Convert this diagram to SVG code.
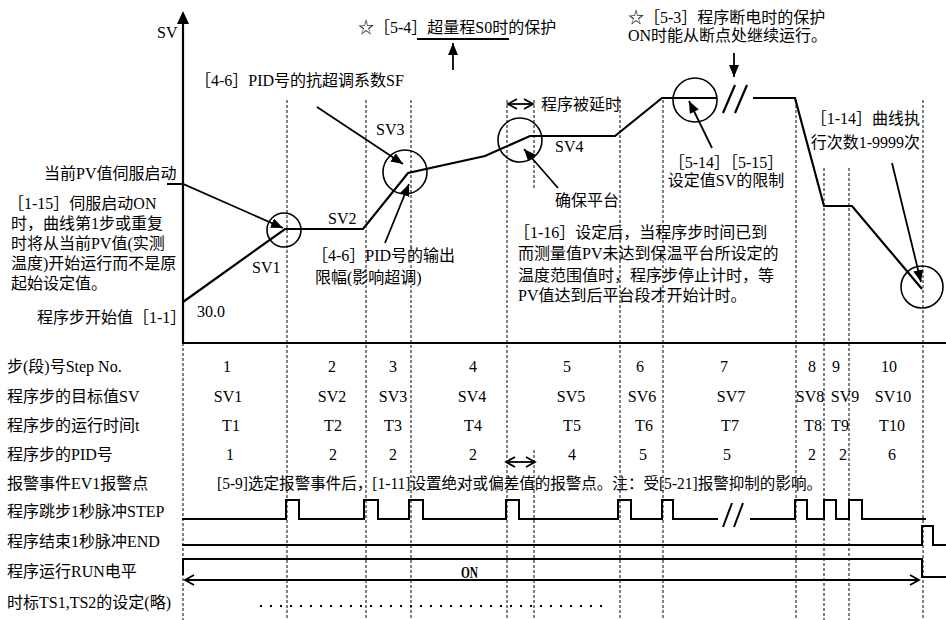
<svg xmlns="http://www.w3.org/2000/svg" width="946" height="620" viewBox="0 0 946 620">
<defs>
<style>
text{font-family:"Liberation Serif","Noto Sans CJK SC",serif;font-size:16px;fill:#000}
.m{text-anchor:middle}
.e{text-anchor:end}
.dash{stroke:#000;stroke-width:1;stroke-dasharray:3 2;fill:none}
.thick{stroke:#000;stroke-width:2.2;fill:none}
.circ{stroke:#000;stroke-width:1.6;fill:none}
.arr{stroke:#000;stroke-width:1.8;fill:none;marker-end:url(#ah)}
.dbl{stroke:#000;stroke-width:1.8;fill:none;marker-start:url(#oh);marker-end:url(#oh)}
.sig{stroke:#000;stroke-width:2;fill:none}
</style>
<marker id="ah" markerUnits="userSpaceOnUse" markerWidth="13" markerHeight="11" refX="12" refY="5" orient="auto"><path d="M0,0 L12,5 L0,10 z" fill="#000"/></marker>
<marker id="oh" markerUnits="userSpaceOnUse" markerWidth="12" markerHeight="12" refX="10" refY="6" orient="auto-start-reverse"><path d="M1,1 L10,6 L1,11" fill="none" stroke="#000" stroke-width="1.8"/></marker>
</defs>
<rect width="946" height="620" fill="#fff"/>

<g id="grid">
<path class="dash" d="M183,343V620 M287,100V620 M366,100V620 M411,100V620 M507,100V620 M534,100V190 M534,450V620 M620,100V620 M663,100V620 M796,100V620 M824,168V620 M849,168V620 M923,100V620"/>
</g>

<g id="axes">
<path d="M183,22V343" stroke="#000" stroke-width="2.2" fill="none"/>
<polygon points="183,11 177,24 189,24" fill="#000"/>
<path d="M182,343H946" stroke="#000" stroke-width="2.2" fill="none"/>
<text x="157" y="38">SV</text>
</g>

<g id="curve">
<path class="thick" d="M183,302 L285,229 L363,229 L408,173 L485,156 L530,136 L615,136 L662,98 L717,98 M753,98 L795,98 L824,206 L852,206 L922,289"/>
<path class="thick" d="M723,113 L735,85 M735,113 L747,85"/>
</g>

<g id="circles">
<circle class="circ" cx="284" cy="230" r="17"/>
<circle class="circ" cx="405" cy="172" r="22"/>
<circle class="circ" cx="520" cy="140" r="22"/>
<circle class="circ" cx="695" cy="100" r="22"/>
<circle class="circ" cx="922" cy="287" r="21"/>
</g>

<g id="connectors">
<path class="arr" d="M167,184 L183,184 L283,228"/>
<path class="arr" d="M317,107 L403,164"/>
<path class="arr" d="M385,243 L409,184"/>
<path class="arr" d="M558,188 L524,149"/>
<path class="arr" d="M712,148 L689,101"/>
<path class="arr" d="M892,163 L921,282"/>
<path class="arr" d="M734,53 L734,77"/>
<path class="arr" d="M453,70 L453,43"/>
<path d="M417,39 H509" stroke="#000" stroke-width="2" fill="none"/>
<path class="dbl" d="M508,104 H533"/>
<path class="dbl" d="M506,462 H535"/>
<path class="dbl" d="M185,580 H919"/>
</g>

<g id="labels-top">
<text x="195" y="86">［4-6］PID号的抗超调系数SF</text>
<text x="358" y="33">☆［5-4］超量程S0时的保护</text>
<text x="628" y="23">☆［5-3］程序断电时的保护</text>
<text x="628" y="41">ON时能从断点处继续运行。</text>
<text x="541" y="110">程序被延时</text>
<text x="376" y="135">SV3</text>
<text x="555" y="152">SV4</text>
<text x="555" y="206">确保平台</text>
<text x="328" y="224">SV2</text>
<text x="252" y="273">SV1</text>
<text x="197" y="317">30.0</text>
<text x="37" y="323">程序步开始值［1-1］</text>
<text x="44" y="179">当前PV值伺服启动</text>
<text x="8" y="209">［1-15］伺服启动ON</text>
<text x="11" y="229">时，曲线第1步或重复</text>
<text x="11" y="249">时将从当前PV值(实测</text>
<text x="11" y="269">温度)开始运行而不是原</text>
<text x="11" y="289">起始设定值。</text>
<text x="312" y="261">［4-6］PID号的输出</text>
<text x="315" y="283">限幅(影响超调)</text>
<text x="514" y="238">［1-16］设定后，当程序步时间已到</text>
<text x="518" y="259">而测量值PV未达到保温平台所设定的</text>
<text x="518" y="281">温度范围值时，程序步停止计时，等</text>
<text x="518" y="301">PV值达到后平台段才开始计时。</text>
<text class="m" x="726" y="168">［5-14］［5-15］</text>
<text class="m" x="726" y="186">设定值SV的限制</text>
<text class="e" x="920" y="124">［1-14］曲线执</text>
<text class="e" x="920" y="148">行次数1-9999次</text>
</g>

<g id="row-labels">
<text x="7" y="372">步(段)号Step No.</text>
<text x="7" y="402">程序步的目标值SV</text>
<text x="7" y="431">程序步的运行时间t</text>
<text x="7" y="460">程序步的PID号</text>
<text x="7" y="489">报警事件EV1报警点</text>
<text x="7" y="517">程序跳步1秒脉冲STEP</text>
<text x="7" y="547">程序结束1秒脉冲END</text>
<text x="7" y="577">程序运行RUN电平</text>
<text x="7" y="608">时标TS1,TS2的设定(略)</text>
</g>

<g id="table">
<text class="m" x="227" y="372">1</text><text class="m" x="332" y="372">2</text><text class="m" x="393" y="372">3</text><text class="m" x="473" y="372">4</text><text class="m" x="567" y="372">5</text><text class="m" x="640" y="372">6</text><text class="m" x="724" y="372">7</text><text class="m" x="812" y="372">8</text><text class="m" x="836" y="372">9</text><text class="m" x="889" y="372">10</text>
<text class="m" x="228" y="402">SV1</text><text class="m" x="332" y="402">SV2</text><text class="m" x="393" y="402">SV3</text><text class="m" x="472" y="402">SV4</text><text class="m" x="571" y="402">SV5</text><text class="m" x="642" y="402">SV6</text><text class="m" x="731" y="402">SV7</text><text class="m" x="810" y="402">SV8</text><text class="m" x="845" y="402">SV9</text><text class="m" x="893" y="402">SV10</text>
<text class="m" x="231" y="431">T1</text><text class="m" x="333" y="431">T2</text><text class="m" x="393" y="431">T3</text><text class="m" x="473" y="431">T4</text><text class="m" x="572" y="431">T5</text><text class="m" x="644" y="431">T6</text><text class="m" x="730" y="431">T7</text><text class="m" x="813" y="431">T8</text><text class="m" x="840" y="431">T9</text><text class="m" x="892" y="431">T10</text>
<text class="m" x="230" y="460">1</text><text class="m" x="333" y="460">2</text><text class="m" x="393" y="460">2</text><text class="m" x="473" y="460">2</text><text class="m" x="572" y="460">4</text><text class="m" x="643" y="460">5</text><text class="m" x="727" y="460">5</text><text class="m" x="812" y="460">2</text><text class="m" x="843" y="460">2</text><text class="m" x="892" y="460">6</text>
<text x="217" y="489" textLength="605" lengthAdjust="spacingAndGlyphs">[5-9]选定报警事件后，[1-11]设置绝对或偏差值的报警点。注：受[5-21]报警抑制的影响。</text>
</g>

<g id="signals">
<path class="sig" d="M182,519 H286 V500 H299 V519 H364 V500 H378 V519 H409 V500 H423 V519 H506 V500 H519 V519 H618 V500 H631 V519 H662 V500 H673 V519 H718 M750,519 H795 V500 H807 V519 H824 V500 H836 V519 H849 V500 H862 V519 H926"/>
<path class="sig" d="M723,527 L732,503 M734,527 L743,503"/>
<path class="sig" d="M182,545 H922 V526 H933 V545 H946"/>
<path class="sig" d="M183,575 V559 H922 V577 H946"/>
<text x="461" y="578" font-weight="bold" font-size="16" textLength="17" lengthAdjust="spacingAndGlyphs">ON</text>
<path d="M260,606 H606" stroke="#000" stroke-width="2" stroke-dasharray="2 8" fill="none"/>
</g>
</svg>
